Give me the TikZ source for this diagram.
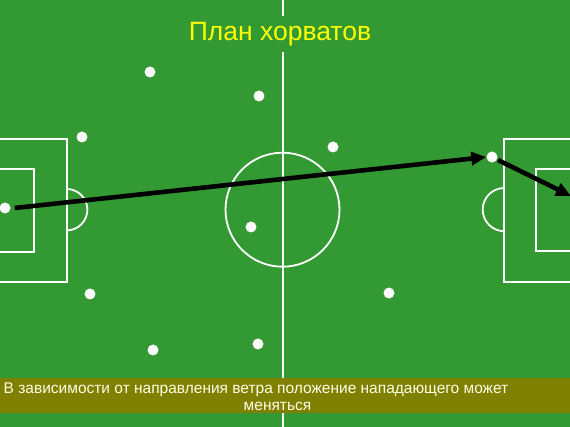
\documentclass[tikz,border=0pt]{standalone}
\usepackage{fontspec}
\setmainfont{Liberation Sans}
\usetikzlibrary{arrows.meta}
\definecolor{field}{RGB}{51,153,51}
\definecolor{band}{RGB}{128,128,0}
\definecolor{titleyellow}{RGB}{255,255,0}
\definecolor{captiontext}{RGB}{255,255,230}
\tikzset{
  fieldline/.style={draw=white, line width=1.8pt},
  player/.style={circle, fill=white, draw=none, minimum size=11pt, inner sep=0pt},
  run/.style={draw=black, line width=4.6pt, -{Triangle[length=15pt,width=13pt]}},
  caption/.style={inner sep=0pt, text=captiontext, font=\fontsize{15.5}{17}\selectfont},
}
\begin{document}
\begin{tikzpicture}[x=1pt,y=-1pt]
\useasboundingbox (0,0) rectangle (570,427);
\fill[field] (0,0) rectangle (570,427);
% markings
\draw[fieldline] (282.7,0) -- (282.7,427);
\draw[fieldline] (282.5,209.7) circle (57);
\draw[fieldline] (-2,139) -- (66.7,139) -- (66.7,281.7) -- (-2,281.7);
\draw[fieldline] (-2,169) -- (34.3,169) -- (34.3,251.7) -- (-2,251.7);
\draw[fieldline] (66.7,189) arc[start angle=-90, end angle=90, radius=20.7];
\draw[fieldline] (572,139.3) -- (504.3,139.3) -- (504.3,281.7) -- (572,281.7);
\draw[fieldline] (572,169) -- (536,169) -- (536,250.7) -- (572,250.7);
\draw[fieldline] (504.3,188) arc[start angle=-90, end angle=-270, radius=21.6];
% title
\node[fill=field, inner xsep=50pt, inner ysep=6pt, text=titleyellow, font=\fontsize{26.5}{30}\selectfont] (title) at (280,34) {План хорватов};
% players
\node[player] (p1) at (5,208) {};
\node[player] (p2) at (150,72) {};
\node[player] (p3) at (259,96) {};
\node[player] (p4) at (82,137) {};
\node[player] (p5) at (333,147) {};
\node[player] (p6) at (492,157) {};
\node[player] (p7) at (251,227) {};
\node[player] (p8) at (90,294) {};
\node[player] (p9) at (389,293) {};
\node[player] (p10) at (153,350) {};
\node[player] (p11) at (258,344) {};
\coordinate (goal) at (571,196);
% runs
\draw[run] ([xshift=4pt]p1.east) -- (p6.west);
\draw[run] ([xshift=2pt,yshift=1pt]p6.south east) -- (goal);
% caption
\fill[band] (0,378.3) rectangle (570,413);
\node[caption, anchor=base west] (cap1) at (3.5,393.5) {В зависимости от направления ветра положение нападающего может};
\node[caption, anchor=base] (cap2) at (277.5,410.3) {меняться};
\end{tikzpicture}
\end{document}
